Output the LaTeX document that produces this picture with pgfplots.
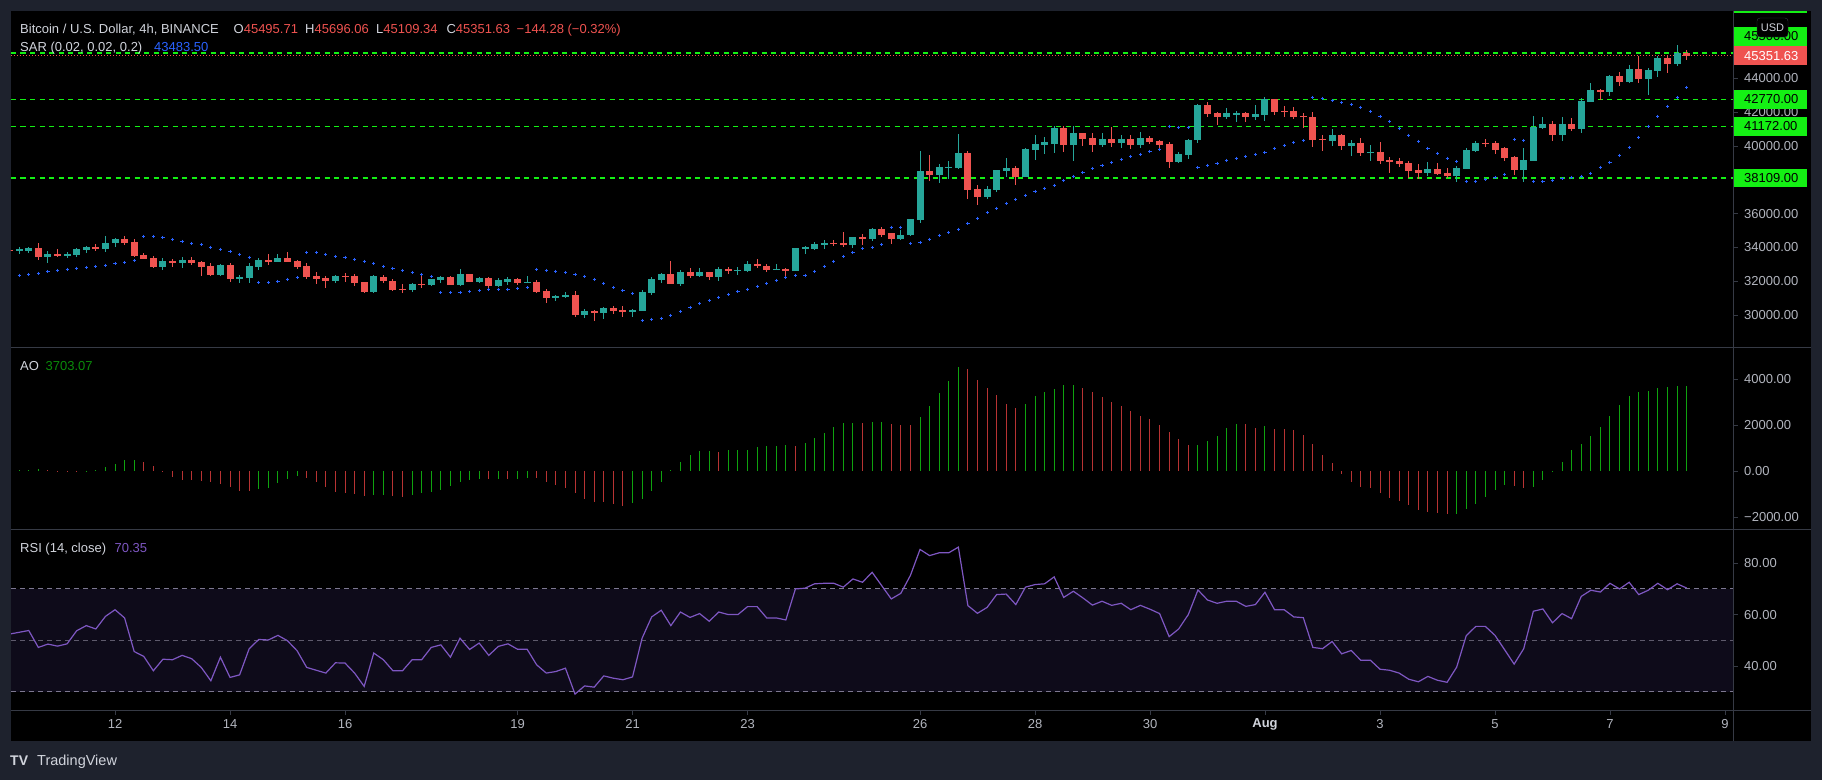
\documentclass[border=0pt]{standalone}
\usepackage{pgfplots}
\pgfplotsset{compat=1.18}
\usepackage{pgfplotstable}
\usepackage{fontspec}
\setmainfont{Liberation Sans}
\definecolor{tvnavy}{HTML}{1E222D}
\definecolor{sep}{HTML}{363A45}
\definecolor{lbl}{HTML}{B2B5BE}
\definecolor{ttl}{HTML}{D1D4DC}
\definecolor{cgreen}{HTML}{26A69A}
\definecolor{cred}{HTML}{EF5350}
\definecolor{lvl}{HTML}{14F014}
\definecolor{sar}{HTML}{2962FF}
\definecolor{aog}{HTML}{0FA30F}
\definecolor{aot}{HTML}{0A8A0A}
\definecolor{aor}{HTML}{B83333}
\definecolor{rsi}{HTML}{7E57C2}
\definecolor{band}{HTML}{0E0B1A}
\definecolor{rsil}{HTML}{7D7890}
\pgfplotstableread{
i O H L C S A g R
0 33850 33880 33780 33800 32229 20 1 52.4
1 33787 34024 33630 33906 32348 40 1 53.1
2 33787 34024 33689 33965 32407 50 1 53.8
3 33965 34261 33255 33452 32466 87 1 47.2
4 33432 33787 33097 33610 32584 30 0 48.5
5 33610 33906 33432 33491 32644 15 0 47.7
6 33491 33728 33373 33610 32703 -15 0 48.6
7 33551 33965 33432 33906 32762 -25 0 53.7
8 33846 34083 33669 34024 32821 10 1 55.7
9 34024 34201 33787 33906 32880 40 1 54.4
10 33906 34675 33728 34261 32939 175 1 59.3
11 34261 34556 34024 34497 33058 320 1 61.9
12 34497 34675 34142 34261 33117 480 1 58.7
13 34320 34497 33432 33491 33235 490 1 45.6
14 33551 33669 33314 33314 34655 408 0 43.7
15 33373 33491 32782 32841 34655 218 0 38.1
16 32841 33373 32663 33196 34596 10 0 42.6
17 33196 33314 32841 33077 34478 -247 0 42.4
18 33077 33432 32782 33255 34359 -393 0 44.1
19 33255 33432 32959 33077 34241 -400 0 42.8
20 33137 33196 32308 32841 34182 -437 0 39.4
21 32900 33077 32308 32367 34004 -466 0 34.2
22 32367 33018 32308 32959 33886 -553 0 43.4
23 32959 33077 31953 32131 33768 -684 0 35.5
24 32131 32367 31894 32249 33590 -874 0 36.5
25 32190 33077 31894 32900 33413 -880 0 46.7
26 32841 33373 32663 33255 31934 -786 1 50.3
27 33255 33610 32959 33137 31934 -728 1 50.1
28 33137 33610 33137 33373 31993 -539 1 51.9
29 33373 33728 33137 33137 32111 -349 1 49.8
30 33196 33255 32722 32841 32229 -218 1 45.9
31 32900 33077 32131 32249 33708 -291 0 39.4
32 32308 32545 31835 32131 33708 -466 0 38.3
33 32190 32308 31598 32013 33590 -684 0 37.2
34 32013 32367 31894 32308 33472 -903 0 41.2
35 32308 32485 31953 32249 33413 -975 0 41.1
36 32308 32427 31717 31894 33294 -1019 0 37.2
37 31953 31953 31303 31362 33176 -1077 0 32.0
38 31362 32367 31303 32308 33058 -1070 1 45.0
39 32249 32367 31894 32013 32880 -1060 1 42.4
40 32013 32131 31421 31480 32762 -1092 0 38.1
41 31539 31835 31303 31480 32644 -1136 0 38.1
42 31480 31894 31362 31835 32525 -1048 1 42.4
43 31835 32308 31598 31776 32407 -961 1 42.4
44 31776 32131 31717 32131 32289 -903 1 47.2
45 32072 32308 31894 32249 31342 -815 1 48.2
46 32249 32308 31776 31776 31342 -641 1 43.4
47 31776 32723 31717 32427 31342 -466 1 50.8
48 32427 32427 31954 31954 31401 -393 1 46.4
49 31954 32249 31895 32190 31461 -349 1 48.9
50 32190 32249 31539 31717 31520 -355 0 44.1
51 31717 32190 31658 32072 31520 -340 1 47.6
52 31954 32249 31776 32131 31520 -352 0 48.6
53 32131 32190 31776 31895 31579 -330 1 46.5
54 31895 32308 31895 31954 31638 -300 1 46.5
55 31954 32072 31303 31362 32703 -320 0 40.4
56 31421 31539 30711 31007 32644 -466 0 37.2
57 31007 31184 30830 31125 32585 -611 0 37.8
58 31066 31362 31007 31184 32525 -728 0 39.1
59 31184 31421 29883 30001 32407 -975 0 29.0
60 30001 30356 29824 30238 32289 -1223 0 32.2
61 30238 30297 29646 30120 32111 -1340 0 31.7
62 30120 30474 29765 30415 31875 -1369 0 36.1
63 30415 30534 30060 30238 31638 -1456 0 35.2
64 30297 30534 29883 30179 31461 -1529 0 34.6
65 30179 30356 29883 30297 31283 -1412 1 35.7
66 30238 31480 30238 31362 29686 -1238 1 50.8
67 31303 32249 31184 32131 29745 -874 1 59.1
68 32072 32486 31895 32427 29804 -495 1 61.7
69 32427 33196 31836 31836 29982 29 1 55.7
70 31836 32663 31717 32545 30218 408 1 61.0
71 32545 32782 32190 32308 30455 699 1 58.9
72 32308 32782 32249 32545 30691 874 1 60.4
73 32545 32545 32072 32249 30869 880 1 57.4
74 32249 32841 32013 32723 31046 844 0 61.0
75 32723 32841 32427 32604 31224 903 1 60.0
76 32604 32841 32368 32663 31401 910 1 60.0
77 32604 33196 32545 33018 31520 932 1 63.1
78 33018 33314 32782 32900 31697 1063 1 63.1
79 32900 33018 32545 32663 31875 1107 1 58.7
80 32663 33018 32663 32723 32052 1110 1 58.7
81 32723 32782 32308 32604 32230 1115 1 57.9
82 32604 33965 32604 33965 32348 1100 0 70.0
83 33906 34083 33610 34024 32348 1209 1 70.3
84 33906 34320 33846 34201 32585 1427 1 72.0
85 34142 34438 33906 34261 32880 1660 1 72.2
86 34261 34438 34083 34201 33176 1922 1 72.2
87 34261 34911 34024 34142 33472 2097 1 70.7
88 34142 34616 33965 34616 33709 2100 1 73.9
89 34616 34793 34142 34497 33945 2090 0 72.6
90 34499 35149 34380 35090 34006 2120 1 76.5
91 35090 35208 34617 34735 34183 2126 1 71.3
92 34853 34853 34203 34499 35189 2053 0 66.1
93 34499 35031 34440 34735 35189 2009 0 68.3
94 34735 35682 34676 35682 34242 2000 0 75.3
95 35623 39705 35445 38521 34301 2359 1 85.4
96 38521 39468 37930 38285 34479 2839 1 83.0
97 38285 38936 37812 38758 34715 3407 1 84.1
98 38700 39113 38048 38758 34893 3931 1 84.1
99 38699 40710 38640 39586 35070 4543 1 86.3
100 39586 39705 36865 37398 35425 4455 0 63.5
101 37457 37693 36510 36984 35721 3975 0 60.5
102 36984 37634 36865 37457 36076 3611 0 62.8
103 37398 38581 37279 38581 36313 3320 0 67.8
104 38521 39291 38167 38699 36609 2912 0 68.0
105 38699 38818 37693 38167 36845 2752 0 63.9
106 38167 39882 38167 39823 37082 2912 1 70.7
107 39764 40651 39172 40119 37319 3276 1 71.7
108 40060 40533 39527 40237 37496 3451 1 72.0
109 40119 41184 39586 41065 37674 3582 1 74.7
110 41065 41184 39646 40060 37969 3742 1 66.7
111 40060 41184 39113 40770 38206 3750 1 69.1
112 40770 40770 40001 40415 38443 3625 0 66.5
113 40474 40770 39646 40060 38679 3436 0 63.7
114 40060 40770 39941 40415 38857 3218 0 65.2
115 40415 41125 39941 40178 39034 2999 0 63.6
116 40178 40651 39882 40415 39212 2825 0 64.4
117 40415 40651 39823 40060 39389 2621 0 61.9
118 40060 40829 39882 40474 39507 2417 0 63.6
119 40474 40592 40119 40237 39685 2271 0 62.1
120 40296 40356 39823 40060 39803 2009 0 60.4
121 40119 40237 38699 39054 41164 1689 0 51.4
122 39054 39646 38995 39527 41105 1398 0 54.4
123 39468 40415 39231 40356 41105 1136 0 60.0
124 40356 42485 40178 42426 38738 1150 1 69.6
125 42426 42604 41716 41894 38857 1310 1 65.7
126 41953 42012 41243 41716 38975 1543 1 64.4
127 41716 42249 41598 41953 39153 1878 1 65.2
128 41834 42071 41421 41953 39271 2053 1 65.2
129 41953 42012 41421 41716 39389 2038 0 63.2
130 41716 42426 41539 41894 39507 1878 0 63.9
131 41834 42899 41480 42781 39626 1951 1 68.7
132 42781 42781 41835 42012 39863 1835 0 61.9
133 42071 42367 41716 42012 40040 1820 0 61.9
134 42071 42308 41598 41716 40218 1776 0 59.1
135 41775 41953 41065 41716 40336 1572 0 58.8
136 41716 42012 39941 40356 42880 1194 0 47.2
137 40415 40651 39705 40356 42820 699 0 46.7
138 40296 41006 40001 40651 42702 349 0 49.5
139 40651 40710 39764 40001 42584 -116 0 44.7
140 40001 40356 39409 40178 42465 -466 0 46.0
141 40178 40474 39409 39586 42288 -684 0 42.2
142 39586 40060 39113 39646 42051 -757 0 42.2
143 39646 40237 38936 39113 41755 -946 0 38.7
144 39172 39350 38403 39054 41460 -1165 0 38.3
145 39113 39291 38758 38936 41046 -1310 0 37.2
146 38995 39113 38107 38521 40631 -1485 0 34.8
147 38581 38936 38048 38403 40277 -1689 0 33.8
148 38403 39054 38226 38640 39862 -1805 0 35.9
149 38640 38995 38285 38344 39567 -1820 0 34.4
150 38403 38699 38107 38226 39271 -1878 0 33.6
151 38226 38818 37871 38699 39093 -1870 1 39.5
152 38640 39882 38640 39764 37910 -1660 1 51.8
153 39705 40296 39646 40178 37910 -1456 1 55.4
154 40178 40415 39941 40119 38028 -1136 1 55.4
155 40178 40296 39527 39764 38147 -815 1 51.9
156 39882 39941 39113 39291 38324 -611 1 46.3
157 39350 39409 38285 38581 40395 -655 0 40.7
158 38581 39882 37871 39172 40336 -757 0 46.7
159 39113 41775 39113 41125 37910 -684 1 61.3
160 41065 41716 41006 41302 37910 -393 1 62.2
161 41302 41480 40296 40651 37969 -58 1 56.8
162 40651 41716 40296 41302 38088 408 1 60.4
163 41302 41657 40888 41006 38147 917 1 58.4
164 41006 42840 40770 42663 38206 1194 1 67.1
165 42603 43728 42603 43313 38384 1543 1 69.5
166 43313 43373 42722 43195 38738 1936 1 68.8
167 43195 44201 42958 44142 39034 2417 1 72.2
168 44142 44378 43550 43787 39449 2883 1 70.0
169 43787 44792 43728 44556 39922 3261 1 72.6
170 44556 45325 43728 43964 40513 3436 1 67.8
171 43964 44615 43018 44497 41164 3509 1 69.5
172 44438 45325 44083 45207 41755 3640 1 72.2
173 45207 45384 44319 44852 42347 3669 1 69.7
174 44852 45976 44733 45502 42880 3698 1 72.0
175 45495.71 45696.06 45109.34 45351.63 43483.5 3703.07 1 70.35
}\data
\pgfplotsset{
  tvax/.style={at={(11pt,#1)}, anchor=south west, scale only axis, width=1722pt,
    xmin=10.191, xmax=40.139, hide axis, clip mode=individual},
}
\tikzset{
  tl/.style={anchor=base west, inner sep=0pt, font=\fontsize{13}{15}\selectfont},
  lab/.style={anchor=west, inner sep=0pt, font=\fontsize{13}{15}\selectfont},
  dl/.style={inner sep=0pt, font=\fontsize{13}{15}\selectfont, text=lbl},
}
\begin{document}
\begin{tikzpicture}
\path[use as bounding box] (0,0) rectangle (1822pt,780pt);
\fill[tvnavy] (0,0) rectangle (1822pt,780pt);
\fill[black] (11pt,39pt) rectangle (1811pt,769pt);

% ---------------- main price pane
\begin{axis}[tvax=432pt, height=337pt, ymin=28047, ymax=47988]
\addplot[lvl, line width=1.2pt, dash pattern=on 5pt off 4.5pt] coordinates {(10.191,45500) (40.139,45500)};
\addplot[lvl, line width=1.2pt, dash pattern=on 5pt off 4.5pt] coordinates {(10.191,42770) (40.139,42770)};
\addplot[lvl, line width=1.2pt, dash pattern=on 5pt off 4.5pt] coordinates {(10.191,41172) (40.139,41172)};
\addplot[lvl, line width=1.2pt, dash pattern=on 5pt off 4.5pt] coordinates {(10.191,38109) (40.139,38109)};
\addplot[cred, line width=1pt, dash pattern=on 1pt off 2pt] coordinates {(10.191,45351.63) (40.139,45351.63)};
% wicks
\addplot[draw=none, mark=none, restrict expr to domain={\thisrow{C}-\thisrow{O}}{0:1e7},
  error bars/.cd, y dir=both, y explicit, error mark=none, error bar style={draw=cgreen, line width=1pt}]
  table[x expr=10.16667+\thisrow{i}/6, y expr=(\thisrow{H}+\thisrow{L})/2, y error expr=(\thisrow{H}-\thisrow{L})/2] {\data};
\addplot[draw=none, mark=none, restrict expr to domain={\thisrow{C}-\thisrow{O}}{-1e7:-0.001},
  error bars/.cd, y dir=both, y explicit, error mark=none, error bar style={draw=cred, line width=1pt}]
  table[x expr=10.16667+\thisrow{i}/6, y expr=(\thisrow{H}+\thisrow{L})/2, y error expr=(\thisrow{H}-\thisrow{L})/2] {\data};
% bodies
\addplot[draw=none, mark=none, restrict expr to domain={\thisrow{C}-\thisrow{O}}{0:1e7},
  error bars/.cd, y dir=both, y explicit, error mark=none, error bar style={draw=cgreen, line width=7pt}]
  table[x expr=10.16667+\thisrow{i}/6, y expr=(\thisrow{O}+\thisrow{C})/2, y error expr={max(abs(\thisrow{C}-\thisrow{O})/2,35)}] {\data};
\addplot[draw=none, mark=none, restrict expr to domain={\thisrow{C}-\thisrow{O}}{-1e7:-0.001},
  error bars/.cd, y dir=both, y explicit, error mark=none, error bar style={draw=cred, line width=7pt}]
  table[x expr=10.16667+\thisrow{i}/6, y expr=(\thisrow{O}+\thisrow{C})/2, y error expr={max(abs(\thisrow{C}-\thisrow{O})/2,35)}] {\data};
% SAR
\addplot[only marks, mark=+, mark size=1.6pt, color=sar, mark options={line width=1pt}]
  table[x expr=10.16667+\thisrow{i}/6, y=S] {\data};
% price scale
\pgfplotsinvokeforeach{30000,32000,34000,36000,38000,40000,42000,44000}{
  \draw[sep] (axis cs:40.139,#1) -- ([xshift=5pt]axis cs:40.139,#1);
}
\node[lab, text=lbl] at (axis cs:40.33,44000) {44000.00};
\node[lab, text=lbl] at (axis cs:40.33,42000) {42000.00};
\node[lab, text=lbl] at (axis cs:40.33,40000) {40000.00};
\node[lab, text=lbl] at (axis cs:40.33,36000) {36000.00};
\node[lab, text=lbl] at (axis cs:40.33,34000) {34000.00};
\node[lab, text=lbl] at (axis cs:40.33,32000) {32000.00};
\node[lab, text=lbl] at (axis cs:40.33,30000) {30000.00};
\fill[lvl] ([yshift=-9.35pt]axis cs:40.139,42770) rectangle ([xshift=74pt,yshift=9.35pt]axis cs:40.139,42770);
\node[lab, text=black] at (axis cs:40.33,42770) {42770.00};
\fill[lvl] ([yshift=-9.35pt]axis cs:40.139,41172) rectangle ([xshift=74pt,yshift=9.35pt]axis cs:40.139,41172);
\node[lab, text=black] at (axis cs:40.33,41172) {41172.00};
\fill[lvl] ([yshift=-9.35pt]axis cs:40.139,38109) rectangle ([xshift=74pt,yshift=9.35pt]axis cs:40.139,38109);
\node[lab, text=black] at (axis cs:40.33,38109) {38109.00};
\fill[lvl] ([yshift=-9.35pt]axis cs:40.139,46479) rectangle ([xshift=74pt,yshift=9.35pt]axis cs:40.139,46479);
\node[lab, text=black] at (axis cs:40.33,46479) {45500.00};
\fill[lvl] (axis cs:40.139,47888) rectangle ([xshift=74pt]axis cs:40.139,47988);
\fill[cred] ([yshift=-9.35pt]axis cs:40.139,45351.63) rectangle ([xshift=74pt,yshift=9.35pt]axis cs:40.139,45351.63);
\node[lab, text=white] at (axis cs:40.33,45351.63) {45351.63};
\node[draw=sep, fill=black, rounded corners=3pt, inner sep=0pt, minimum width=31pt, minimum height=19pt,
  text=ttl, font=\fontsize{11}{13}\selectfont] at ([xshift=39.5pt]axis cs:40.139,47011) {USD};
\end{axis}

% ---------------- AO pane
\begin{axis}[tvax=251pt, height=181pt, ymin=-2533, ymax=5371]
\addplot[ycomb, color=aog, line width=1pt, mark=none, restrict expr to domain={\thisrow{g}}{0.5:1.5}]
  table[x expr=10.16667+\thisrow{i}/6, y=A] {\data};
\addplot[ycomb, color=aor, line width=1pt, mark=none, restrict expr to domain={\thisrow{g}}{-0.5:0.5}]
  table[x expr=10.16667+\thisrow{i}/6, y=A] {\data};
\pgfplotsinvokeforeach{-2000,0,2000,4000}{
  \draw[sep] (axis cs:40.139,#1) -- ([xshift=5pt]axis cs:40.139,#1);
}
\node[lab, text=lbl] at (axis cs:40.33,4000) {4000.00};
\node[lab, text=lbl] at (axis cs:40.33,2000) {2000.00};
\node[lab, text=lbl] at (axis cs:40.33,0) {0.00};
\node[lab, text=lbl] at (axis cs:40.33,-2000) {−2000.00};
\end{axis}

% ---------------- RSI pane
\begin{axis}[tvax=70pt, height=181pt, ymin=22.8, ymax=93.37]
\fill[band] (axis cs:10.191,30) rectangle (axis cs:40.139,70);
\addplot[rsil, line width=1pt, dash pattern=on 5pt off 4pt] coordinates {(10.191,70) (40.139,70)};
\addplot[rsil!75!black, line width=1pt, dash pattern=on 5pt off 4pt] coordinates {(10.191,50) (40.139,50)};
\addplot[rsil, line width=1pt, dash pattern=on 5pt off 4pt] coordinates {(10.191,30) (40.139,30)};
\addplot[rsi, line width=1.2pt, mark=none] table[x expr=10.16667+\thisrow{i}/6, y=R] {\data};
\pgfplotsinvokeforeach{40,60,80}{
  \draw[sep] (axis cs:40.139,#1) -- ([xshift=5pt]axis cs:40.139,#1);
}
\node[lab, text=lbl] at (axis cs:40.33,80) {80.00};
\node[lab, text=lbl] at (axis cs:40.33,60) {60.00};
\node[lab, text=lbl] at (axis cs:40.33,40) {40.00};
% date axis
\pgfplotsinvokeforeach{12,14,16,19,21,23,26,28,30,32,34,36,38,40}{
  \draw[sep] (axis cs:#1,22.8) -- ([yshift=-5pt]axis cs:#1,22.8);
}
\node[dl] at ([yshift=-14pt]axis cs:12,22.8) {12};
\node[dl] at ([yshift=-14pt]axis cs:14,22.8) {14};
\node[dl] at ([yshift=-14pt]axis cs:16,22.8) {16};
\node[dl] at ([yshift=-14pt]axis cs:19,22.8) {19};
\node[dl] at ([yshift=-14pt]axis cs:21,22.8) {21};
\node[dl] at ([yshift=-14pt]axis cs:23,22.8) {23};
\node[dl] at ([yshift=-14pt]axis cs:26,22.8) {26};
\node[dl] at ([yshift=-14pt]axis cs:28,22.8) {28};
\node[dl] at ([yshift=-14pt]axis cs:30,22.8) {30};
\node[dl, text=ttl, font=\fontsize{13}{15}\selectfont\bfseries] at ([yshift=-14pt]axis cs:32,22.8) {Aug};
\node[dl] at ([yshift=-14pt]axis cs:34,22.8) {3};
\node[dl] at ([yshift=-14pt]axis cs:36,22.8) {5};
\node[dl] at ([yshift=-14pt]axis cs:38,22.8) {7};
\node[dl] at ([yshift=-14pt]axis cs:40,22.8) {9};
\end{axis}

% separators
\draw[sep, line width=1pt] (11pt,432pt) -- (1811pt,432pt);
\draw[sep, line width=1pt] (11pt,251pt) -- (1811pt,251pt);
\draw[sep, line width=1pt] (11pt,70pt) -- (1811pt,70pt);
\draw[sep, line width=1pt] (1733pt,39pt) -- (1733pt,769pt);

% legends
\node[tl, text=ttl] at (20pt,746.7pt) {Bitcoin / U.S. Dollar, 4h, BINANCE};
\node[tl] at (233.5pt,746.7pt) {\color{ttl}O\color{cred}45495.71};
\node[tl] at (305pt,746.7pt) {\color{ttl}H\color{cred}45696.06};
\node[tl] at (376pt,746.7pt) {\color{ttl}L\color{cred}45109.34};
\node[tl] at (446.4pt,746.7pt) {\color{ttl}C\color{cred}45351.63};
\node[tl, text=cred] at (516.5pt,746.7pt) {−144.28 (−0.32\%)};
\node[tl, text=ttl] at (20pt,728.3pt) {SAR (0.02, 0.02, 0.2)};
\node[tl, text=sar] at (154pt,728.3pt) {43483.50};
\node[tl, text=ttl] at (20pt,409pt) {AO};
\node[tl, text=aot] at (45.5pt,409pt) {3703.07};
\node[tl, text=ttl] at (20pt,228pt) {RSI (14, close)};
\node[tl, text=rsi] at (114.4pt,228pt) {70.35};
% footer
\node[anchor=base west, inner sep=0pt, text=ttl, font=\fontsize{14}{16}\selectfont\bfseries] at (10pt,15pt) {TV};
\node[anchor=base west, inner sep=0pt, text=ttl, font=\fontsize{14.5}{16}\selectfont] at (37pt,15pt) {TradingView};
\end{tikzpicture}
\end{document}
